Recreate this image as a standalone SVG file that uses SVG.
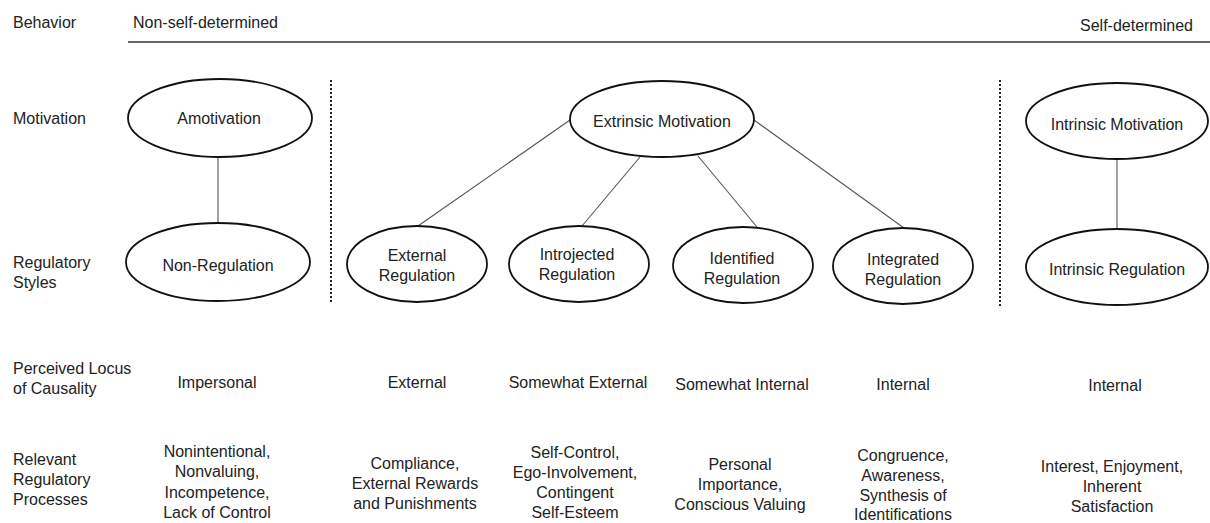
<svg xmlns="http://www.w3.org/2000/svg" width="1210" height="523" viewBox="0 0 1210 523">
<style>
text{font-family:"Liberation Sans",Arial,sans-serif;font-size:16px;fill:#222}
.c{text-anchor:middle}
.node ellipse{fill:#fff;stroke:#111;stroke-width:1.8}
.conn line{stroke:#555;stroke-width:1.1}
.div{stroke:#222;stroke-width:2;stroke-dasharray:2 2}
</style>
<rect width="1210" height="523" fill="#fff"/>
<g id="header">
<text x="13" y="28">Behavior</text>
<text x="133" y="28">Non-self-determined</text>
<text x="1080" y="31">Self-determined</text>
<line x1="128" y1="42" x2="1210" y2="42" stroke="#333" stroke-width="1.5"/>
</g>
<g id="row-labels">
<text x="13" y="124">Motivation</text>
<text x="13" y="268">Regulatory</text>
<text x="13" y="288">Styles</text>
<text x="13" y="374">Perceived Locus</text>
<text x="13" y="394">of Causality</text>
<text x="13" y="465">Relevant</text>
<text x="13" y="485">Regulatory</text>
<text x="13" y="505">Processes</text>
</g>
<g id="dividers">
<line class="div" x1="331" y1="80" x2="331" y2="302"/>
<line class="div" x1="1000" y1="80" x2="1000" y2="306"/>
</g>
<g id="connectors" class="conn">
<line x1="218" y1="157" x2="218" y2="223"/>
<line x1="570" y1="120" x2="418" y2="226"/>
<line x1="640" y1="157" x2="582" y2="226"/>
<line x1="698" y1="156" x2="757" y2="227"/>
<line x1="754" y1="120" x2="904" y2="228"/>
<line x1="1117" y1="159" x2="1117" y2="229"/>
</g>
<g id="amotivation" class="node"><ellipse cx="220" cy="118" rx="92" ry="39"/><text class="c" x="219" y="124">Amotivation</text></g>
<g id="non-regulation" class="node"><ellipse cx="218" cy="262" rx="92" ry="39"/><text class="c" x="218" y="271">Non-Regulation</text></g>
<g id="extrinsic-motivation" class="node"><ellipse cx="662" cy="119" rx="92" ry="38"/><text class="c" x="662" y="127">Extrinsic Motivation</text></g>
<g id="external-regulation" class="node"><ellipse cx="417" cy="264" rx="70" ry="38"/><text class="c" x="417" y="261">External</text><text class="c" x="417" y="281">Regulation</text></g>
<g id="introjected-regulation" class="node"><ellipse cx="579" cy="264" rx="70" ry="38"/><text class="c" x="577" y="260">Introjected</text><text class="c" x="577" y="280">Regulation</text></g>
<g id="identified-regulation" class="node"><ellipse cx="743" cy="265" rx="70" ry="38"/><text class="c" x="742" y="264">Identified</text><text class="c" x="742" y="284">Regulation</text></g>
<g id="integrated-regulation" class="node"><ellipse cx="903" cy="266" rx="70" ry="38"/><text class="c" x="903" y="265">Integrated</text><text class="c" x="903" y="285">Regulation</text></g>
<g id="intrinsic-motivation" class="node"><ellipse cx="1117" cy="121" rx="91" ry="38"/><text class="c" x="1117" y="130">Intrinsic Motivation</text></g>
<g id="intrinsic-regulation" class="node"><ellipse cx="1117" cy="267" rx="91" ry="38"/><text class="c" x="1117" y="275">Intrinsic Regulation</text></g>
<g id="locus">
<text class="c" x="217" y="388">Impersonal</text>
<text class="c" x="417" y="388">External</text>
<text class="c" x="578" y="388">Somewhat External</text>
<text class="c" x="742" y="390">Somewhat Internal</text>
<text class="c" x="903" y="390">Internal</text>
<text class="c" x="1115" y="391">Internal</text>
</g>
<g id="processes">
<text class="c" x="217" y="457">Nonintentional,</text>
<text class="c" x="217" y="477">Nonvaluing,</text>
<text class="c" x="217" y="498">Incompetence,</text>
<text class="c" x="217" y="518">Lack of Control</text>
<text class="c" x="415" y="469">Compliance,</text>
<text class="c" x="415" y="489">External Rewards</text>
<text class="c" x="415" y="509">and Punishments</text>
<text class="c" x="575" y="458">Self-Control,</text>
<text class="c" x="575" y="478">Ego-Involvement,</text>
<text class="c" x="575" y="498">Contingent</text>
<text class="c" x="575" y="518">Self-Esteem</text>
<text class="c" x="740" y="470">Personal</text>
<text class="c" x="740" y="490">Importance,</text>
<text class="c" x="740" y="510">Conscious Valuing</text>
<text class="c" x="903" y="461">Congruence,</text>
<text class="c" x="903" y="481">Awareness,</text>
<text class="c" x="903" y="501">Synthesis of</text>
<text class="c" x="903" y="520">Identifications</text>
<text class="c" x="1112" y="472">Interest, Enjoyment,</text>
<text class="c" x="1112" y="492">Inherent</text>
<text class="c" x="1112" y="512">Satisfaction</text>
</g>
</svg>
